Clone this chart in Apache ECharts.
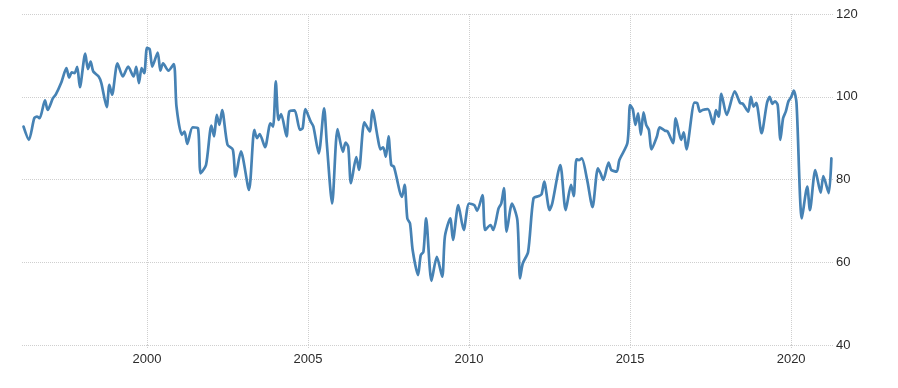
<!DOCTYPE html>
<html>
<head>
<meta charset="utf-8">
<script src="https://cdn.jsdelivr.net/npm/echarts@6/dist/echarts.min.js"></script>
<style>
  html, body { margin: 0; padding: 0; background: #fff; }
  #chart { width: 898px; height: 388px; }
</style>
</head>
<body>
<div id="chart"></div>
<script>
// monthly readings
const months = [
  '1996-03', '1996-05', '1996-07', '1996-08', '1996-09', '1996-11', '1996-12',
  '1997-02', '1997-03', '1997-05', '1997-07', '1997-08', '1997-09', '1997-10', '1997-11', '1997-12',
  '1998-02', '1998-03', '1998-04', '1998-05', '1998-07', '1998-08', '1998-10', '1998-11', '1998-12',
  '1999-02', '1999-04', '1999-06', '1999-08', '1999-09', '1999-10', '1999-11', '1999-12',
  '2000-01', '2000-02', '2000-03', '2000-05', '2000-06', '2000-07', '2000-09', '2000-11', '2000-12',
  '2001-02', '2001-03', '2001-04', '2001-06', '2001-08', '2001-09', '2001-11',
  '2002-01', '2002-02', '2002-03', '2002-04', '2002-05', '2002-07', '2002-09', '2002-10', '2002-12',
  '2003-03', '2003-05', '2003-06', '2003-07', '2003-09', '2003-11', '2003-12',
  '2004-01', '2004-02', '2004-03', '2004-05', '2004-06', '2004-08', '2004-10', '2004-11', '2004-12',
  '2005-02', '2005-03', '2005-05', '2005-07', '2005-08', '2005-10', '2005-12',
  '2006-02', '2006-03', '2006-04', '2006-05', '2006-07', '2006-08', '2006-10', '2006-12',
  '2007-01', '2007-03', '2007-04', '2007-05', '2007-06', '2007-07', '2007-08', '2007-09', '2007-12',
  '2008-01', '2008-02', '2008-03', '2008-04', '2008-06', '2008-07', '2008-08', '2008-09', '2008-11',
  '2009-01', '2009-03', '2009-04', '2009-06', '2009-07', '2009-09', '2009-11',
  '2010-01', '2010-03', '2010-04', '2010-06', '2010-07', '2010-09', '2010-10', '2010-12',
  '2011-01', '2011-02', '2011-03', '2011-05', '2011-07', '2011-08', '2011-09', '2011-11',
  '2012-01', '2012-03', '2012-04', '2012-05', '2012-07', '2012-08', '2012-11',
  '2013-01', '2013-03', '2013-04', '2013-05', '2013-06', '2013-07', '2013-09', '2013-11',
  '2014-01', '2014-02', '2014-03', '2014-05', '2014-06', '2014-08', '2014-09', '2014-12',
  '2015-01', '2015-02', '2015-03', '2015-04', '2015-05', '2015-06', '2015-07', '2015-08', '2015-09', '2015-11', '2015-12',
  '2016-02', '2016-03', '2016-05', '2016-06', '2016-08', '2016-09', '2016-10',
  '2017-01', '2017-02', '2017-03', '2017-04', '2017-06', '2017-08', '2017-09', '2017-10', '2017-11',
  '2018-01', '2018-04', '2018-06', '2018-07', '2018-09', '2018-10', '2018-11', '2018-12',
  '2019-02', '2019-04', '2019-05', '2019-06', '2019-07', '2019-08', '2019-09', '2019-10', '2019-11', '2019-12',
  '2020-01', '2020-02', '2020-03', '2020-05', '2020-07', '2020-08', '2020-10', '2020-12',
  '2021-01', '2021-03', '2021-04'
]

const values = [
  92.8, 89.6, 94.8, 95.2, 94.8, 99.1, 96.8,
  99.7, 100.5, 103.3, 106.9, 104.6, 105.9, 105.7, 107.2, 102.3,
  110.4, 106.7, 108.5, 106.1, 104.9, 103.3, 97.5, 102.9, 100.5,
  108.1, 104.9, 107.3, 104.9, 107.2, 103.3, 106.9, 105.7,
  111.8, 111.5, 107.3, 110.7, 106.3, 108.1, 106.3, 107.9, 97.6,
  90.8, 91.6, 88.6, 92.6, 92.4, 81.5, 83.5,
  93.0, 90.4, 95.6, 93.2, 96.8, 88.4, 87.2, 80.7, 86.8,
  77.5, 92.0, 90.0, 91.0, 87.8, 93.6, 92.8,
  103.7, 94.4, 95.8, 90.4, 96.4, 96.7, 92.0, 92.4, 97.0,
  94.0, 92.8, 86.3, 97.2, 88.8, 74.2, 92.2,
  86.7, 88.9, 87.9, 79.1, 85.4, 82.3, 93.8, 91.6,
  96.8, 90.0, 87.3, 87.8, 85.5, 90.4, 83.5, 83.1, 75.8,
  78.7, 70.6, 69.4, 62.9, 56.9, 61.7, 62.5, 70.6, 55.5,
  61.3, 56.5, 66.2, 70.6, 65.4, 73.8, 67.8,
  74.2, 73.8, 72.4, 76.2, 67.8, 69.0, 67.8, 73.0,
  74.2, 77.9, 67.4, 74.2, 70.2, 56.1, 59.7, 62.5,
  75.4, 76.0, 76.4, 79.5, 72.6, 74.2, 83.5,
  72.6, 78.7, 76.0, 84.9, 84.7, 85.1, 79.9, 73.3,
  82.7, 81.5, 79.9, 84.1, 82.3, 81.9, 84.7, 88.8,
  98.0, 97.0, 93.2, 96.0, 90.8, 96.2, 93.2, 92.0, 87.3, 90.4, 92.6,
  91.8, 91.6, 88.8, 94.8, 89.6, 91.4, 87.3,
  98.6, 98.5, 96.4, 96.8, 97.0, 93.4, 96.8, 95.2, 100.7,
  95.6, 101.3, 98.5, 98.3, 96.4, 100.0, 97.6, 98.5,
  91.2, 98.5, 100.0, 98.3, 98.9, 98.0, 89.6, 94.8, 96.4, 98.9,
  99.9, 101.5, 98.5, 70.6, 78.3, 72.6, 82.3, 76.8,
  80.8, 76.7, 85.1
]

const yearTicks = [2000, 2005, 2010, 2015, 2020]
const yTicks = [40, 60, 80, 100, 120]

const gridColor = '#cfcfcf'
const textStyle = { color: '#2b2b2b', fontFamily: 'Liberation Sans', fontSize: 13 }

// 'YYYY-MM' -> fractional year, so Jan 2000 sits on the 2000 tick
function toYear(m) {
  const [y, mo] = m.split('-').map(Number)
  return y + (mo - 1) / 12
}
const seriesData = months.map((m, i) => [toYear(m), values[i]])

const chart = echarts.init(document.getElementById('chart'), null, { renderer: 'canvas' })

chart.setOption({
  animation: false,
  grid: { left: 22, right: 65, top: 14, bottom: 43, containLabel: false },
  xAxis: {
    type: 'value',
    min: 1996.12,
    max: 2021.3,
    axisLine: { show: false },
    axisTick: {
      show: true,
      length: 4,
      customValues: yearTicks,
      lineStyle: { color: gridColor, type: 'dotted' }
    },
    axisLabel: {
      customValues: yearTicks,
      formatter: (v) => String(v),
      margin: 8,
      ...textStyle
    },
    splitLine: { show: true, lineStyle: { color: gridColor, type: 'dotted', width: 1 } }
  },
  yAxis: {
    type: 'value',
    position: 'right',
    min: yTicks[0],
    max: yTicks[yTicks.length - 1],
    interval: 20,
    axisLine: { show: false },
    axisTick: { show: false },
    axisLabel: { margin: 3, ...textStyle },
    splitLine: { show: true, lineStyle: { color: gridColor, type: 'dotted', width: 1 } }
  },
  series: [
    {
      type: 'line',
      data: seriesData,
      showSymbol: false,
      symbol: 'none',
      smooth: 0.25,
      lineStyle: { color: '#4682b4', width: 2.7, join: 'round', cap: 'round' },
      emphasis: { disabled: true }
    }
  ]
})
</script>
</body>
</html>
